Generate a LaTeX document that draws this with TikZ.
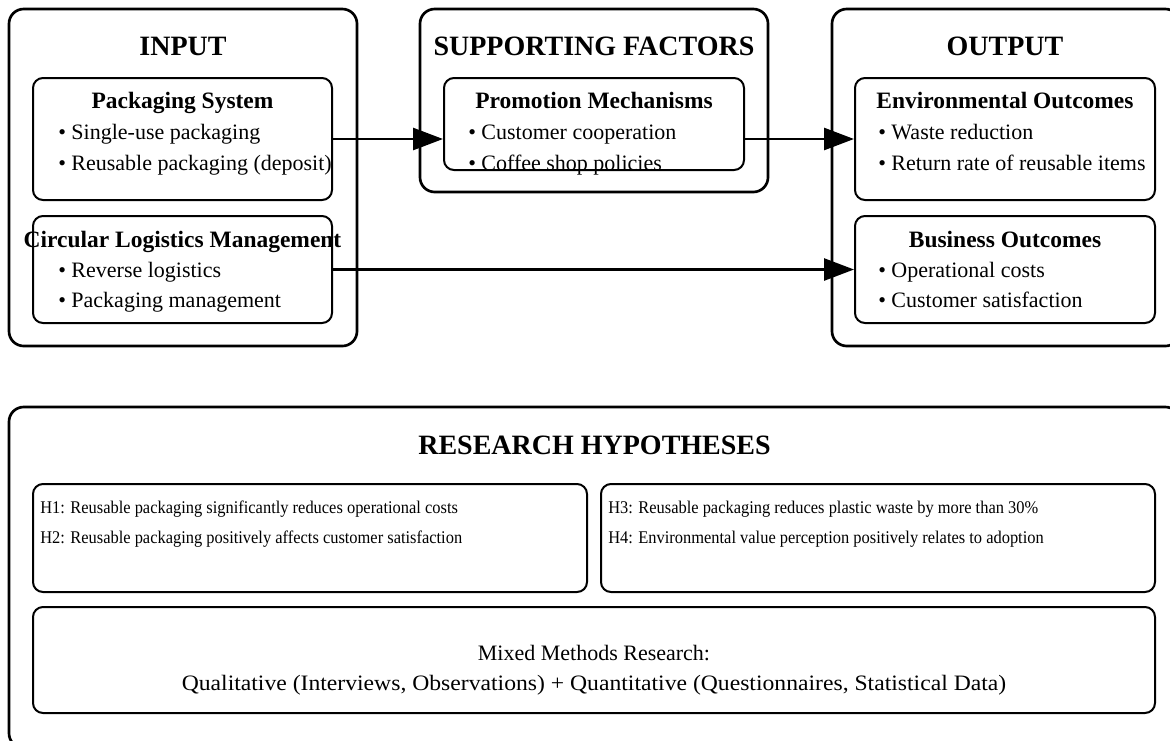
\documentclass[tikz,border=0pt]{standalone}
\usepackage{fontspec}
\setmainfont{Liberation Serif}
\newfontfamily\hypfont{Liberation Serif}[FakeStretch=0.92]
\newfontfamily\widefont{Liberation Serif}[FakeStretch=1.075]
\usetikzlibrary{arrows.meta,fit}

\begin{document}
\begin{tikzpicture}[x=0.75pt,y=-0.75pt,
  outerbox/.style={draw, line width=2pt, rounded corners=11pt, inner sep=0pt},
  innerbox/.style={draw, line width=1.5pt, rounded corners=7.5pt, inner sep=0pt},
  heading/.style={anchor=base, inner sep=0pt, font=\fontsize{21pt}{25pt}\selectfont\bfseries},
  boxtitle/.style={anchor=base, inner sep=0pt, font=\fontsize{17.6pt}{21pt}\selectfont\bfseries},
  bullet/.style={anchor=base west, inner sep=0pt, font=\fontsize{16.5pt}{20pt}\selectfont},
  hypline/.style={anchor=base west, inner sep=0pt, font=\fontsize{13.4pt}{16pt}\hypfont},
  methline/.style={anchor=base, inner sep=0pt, font=\fontsize{16.5pt}{20pt}\selectfont},
  flow/.style={line width=2pt, -{Triangle[length=22.5pt, width=16.5pt]}}
]
\useasboundingbox (0,0) rectangle (1170,740);
\clip (0,0) rectangle (1170,740);

% --- INPUT column ---
\node[outerbox, fit={(9,9) (357,346)}] (inBox) {};
\node[heading] (inTitle) at (183,55) {INPUT};
\node[innerbox, fit={(33,78) (332,200)}] (pkg) {};
\node[boxtitle] (pkgTitle) at (182.5,108) {Packaging System};
\node[bullet] (pkgA) at (58,139.5) {\textbullet\ Single-use packaging};
\node[bullet] (pkgB) at (58,170) {\textbullet\ Reusable packaging (deposit)};
\node[innerbox, fit={(33,216) (332,323)}] (clm) {};
\node[boxtitle] (clmTitle) at (182.5,247) {Circular Logistics Management};
\node[bullet] (clmA) at (58,277) {\textbullet\ Reverse logistics};
\node[bullet] (clmB) at (58,307) {\textbullet\ Packaging management};

% --- SUPPORTING FACTORS column ---
\node[outerbox, fit={(420,9) (768,192)}] (supBox) {};
\node[heading] (supTitle) at (594,55) {SUPPORTING FACTORS};
\node[innerbox, fit={(444,78) (744,170)}] (prom) {};
\node[boxtitle] (promTitle) at (594,108) {Promotion Mechanisms};
\node[bullet] (promA) at (468,139.5) {\textbullet\ Customer cooperation};
\node[bullet] (promB) at (468,170) {\textbullet\ Coffee shop policies};

% --- OUTPUT column ---
\node[outerbox, fit={(832,9) (1180,346)}] (outBox) {};
\node[heading] (outTitle) at (1005,55) {OUTPUT};
\node[innerbox, fit={(855,78) (1155,200)}] (env) {};
\node[boxtitle] (envTitle) at (1005,108) {Environmental Outcomes};
\node[bullet] (envA) at (878,139.5) {\textbullet\ Waste reduction};
\node[bullet] (envB) at (878,170) {\textbullet\ Return rate of reusable items};
\node[innerbox, fit={(855,216) (1155,323)}] (bus) {};
\node[boxtitle] (busTitle) at (1005,247) {Business Outcomes};
\node[bullet] (busA) at (878,277) {\textbullet\ Operational costs};
\node[bullet] (busB) at (878,307) {\textbullet\ Customer satisfaction};

% --- Research hypotheses panel ---
\node[outerbox, fit={(9,407) (1180,748)}] (resBox) {};
\node[heading] (resTitle) at (594.5,454) {RESEARCH HYPOTHESES};
\node[innerbox, fit={(33,484) (587,592)}] (hypL) {};
\node[hypline] (h1) at (40,513) {H1: Reusable packaging significantly reduces operational costs};
\node[hypline] (h2) at (40,543) {H2: Reusable packaging positively affects customer satisfaction};
\node[innerbox, fit={(601,484) (1155,592)}] (hypR) {};
\node[hypline] (h3) at (608,513) {H3: Reusable packaging reduces plastic waste by more than 30\%};
\node[hypline] (h4) at (608,543) {H4: Environmental value perception positively relates to adoption};
\node[innerbox, fit={(33,607) (1155,713)}] (meth) {};
\node[methline] (methA) at (594,660) {Mixed Methods Research:};
\node[methline, font=\fontsize{16.5pt}{20pt}\widefont] (methB) at (594,690) {Qualitative (Interviews, Observations) + Quantitative (Questionnaires, Statistical Data)};

% --- flow connectors ---
\draw[flow] (pkg.east) -- (pkg.east -| prom.west);
\draw[flow] (env.west -| prom.east) -- (env.west);
\draw[flow] (clm.east) -- (bus.west);
\end{tikzpicture}
\end{document}
